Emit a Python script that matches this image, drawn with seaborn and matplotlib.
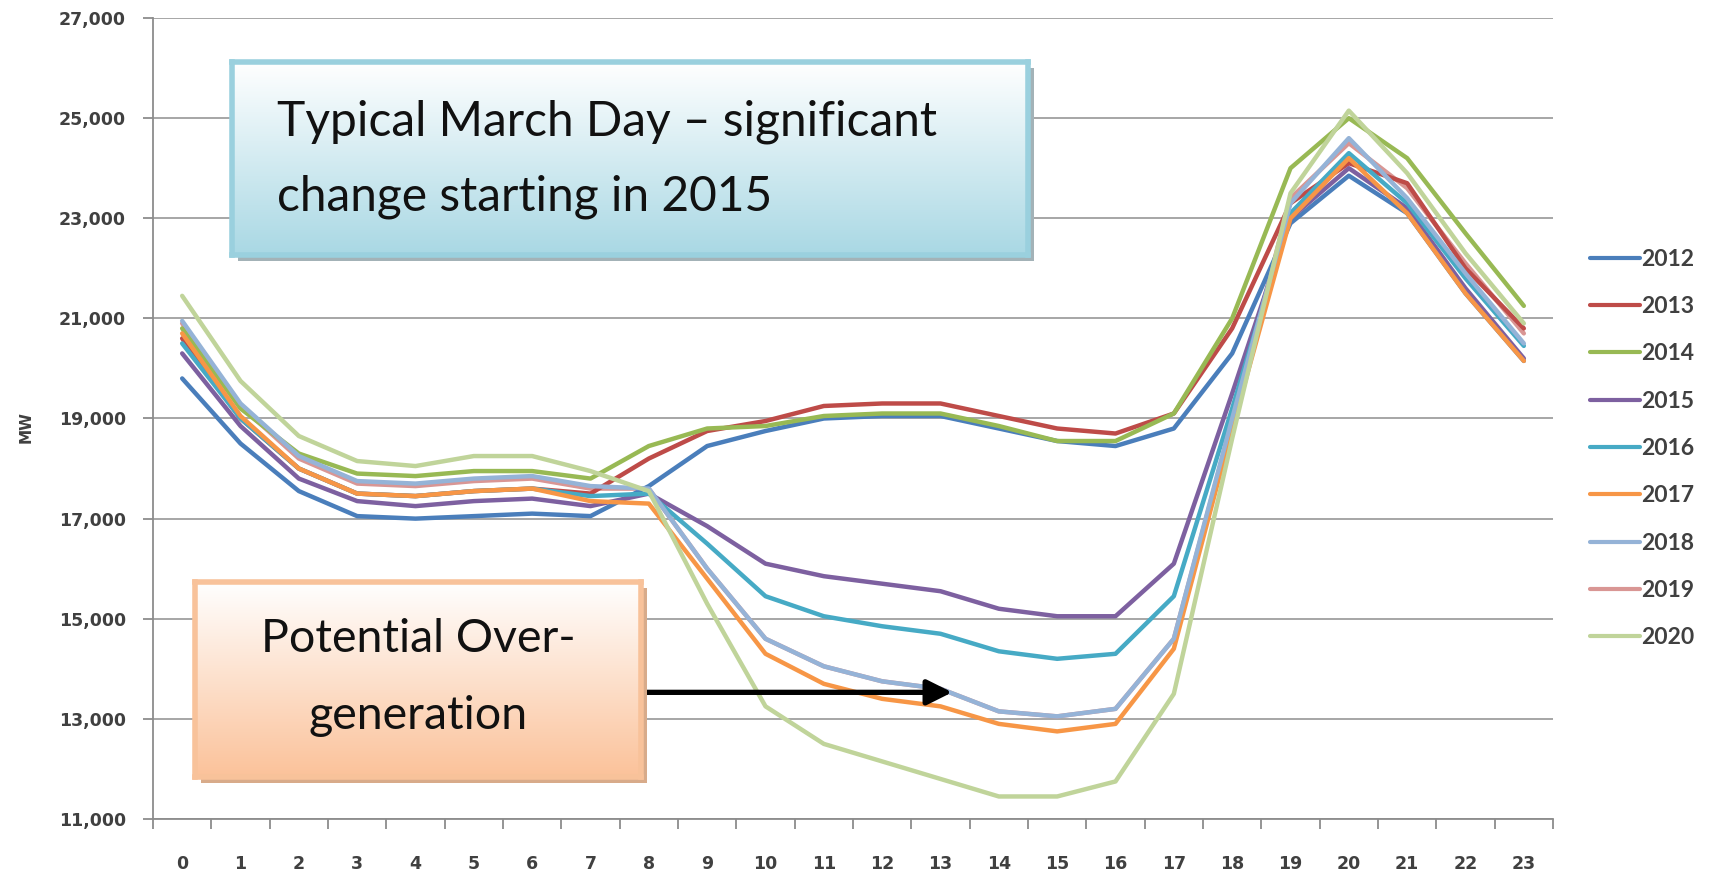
import numpy as np
import pandas as pd
import matplotlib
matplotlib.use("Agg")
import matplotlib.pyplot as plt
import seaborn as sns
from matplotlib.ticker import FuncFormatter, FixedLocator
from matplotlib.patches import Rectangle
from matplotlib.lines import Line2D

hours = list(range(24))
years = ["2012", "2013", "2014", "2015", "2016", "2017", "2018", "2019", "2020"]

y2012 = [19800, 18500, 17550, 17050, 17000, 17050, 17100, 17050, 17650, 18450, 18750, 19000,
         19050, 19050, 18800, 18550, 18450, 18800, 20300, 22900, 23850, 23100, 21500, 20150]
y2013 = [20600, 19000, 18000, 17500, 17450, 17550, 17600, 17500, 18200, 18750, 18950, 19250,
         19300, 19300, 19050, 18800, 18700, 19100, 20800, 23300, 24100, 23700, 22000, 20800]
y2014 = [20800, 19200, 18300, 17900, 17850, 17950, 17950, 17800, 18450, 18800, 18850, 19050,
         19100, 19100, 18850, 18550, 18550, 19100, 21000, 24000, 25000, 24200, 22700, 21250]
y2015 = [20300, 18850, 17800, 17350, 17250, 17350, 17400, 17250, 17500, 16850, 16100, 15850,
         15700, 15550, 15200, 15050, 15050, 16100, 19500, 23000, 24000, 23200, 21600, 20200]
y2016 = [20500, 19000, 18000, 17500, 17450, 17550, 17600, 17450, 17500, 16500, 15450, 15050,
         14850, 14700, 14350, 14200, 14300, 15450, 19200, 23100, 24300, 23300, 21800, 20450]
y2017 = [20700, 19050, 18000, 17500, 17450, 17550, 17600, 17350, 17300, 15800, 14300, 13700,
         13400, 13250, 12900, 12750, 12900, 14400, 18800, 23000, 24200, 23100, 21500, 20150]
y2018 = [20950, 19300, 18250, 17750, 17700, 17800, 17850, 17650, 17600, 16000, 14600, 14050,
         13750, 13600, 13150, 13050, 13200, 14600, 19000, 23300, 24600, 23400, 21900, 20500]
y2019 = [20900, 19250, 18200, 17700, 17650, 17750, 17800, 17600, 17600, 16000, 14600, 14050,
         13750, 13600, 13150, 13050, 13200, 14600, 18950, 23400, 24500, 23600, 22100, 20700]
y2020 = [21450, 19750, 18650, 18150, 18050, 18250, 18250, 17950, 17550, 15300, 13250, 12500,
         12150, 11800, 11450, 11450, 11750, 13500, 18600, 23500, 25150, 23900, 22300, 20900]

series = [y2012, y2013, y2014, y2015, y2016, y2017, y2018, y2019, y2020]
colors = ["#4a7ebb", "#be4b48", "#98b954", "#7d60a0", "#46aac5", "#f79646",
          "#95b3d7", "#d99694", "#c0d49a"]
palette = dict(zip(years, colors))
yticks = [11000, 13000, 15000, 17000, 19000, 21000, 23000, 25000, 27000]

df = pd.DataFrame({
    "hour": hours * len(years),
    "MW": [v for s in series for v in s],
    "year": [y for y in years for _ in hours],
})

sns.set_theme(style="white")
plt.rcParams["font.family"] = ["DejaVu Sans"]

W, H = 1714, 872
fig = plt.figure(figsize=(W / 100, H / 100), dpi=100)
fig.patch.set_facecolor("white")

ax_l, ax_r, ax_t, ax_b = 153, 1553, 18, 819
ax = fig.add_axes([ax_l / W, 1 - ax_b / H, (ax_r - ax_l) / W, (ax_b - ax_t) / H])
ax.set_zorder(0)

draw_order = ["2019", "2012", "2013", "2014", "2015", "2016", "2017", "2018", "2020"]
sns.lineplot(data=df, x="hour", y="MW", hue="year", hue_order=draw_order,
             palette=palette, linewidth=3.2, ax=ax, legend=False)

ax.set_xlim(-0.5, 23.5)
ax.set_ylim(11000, 27000)
ax.set_yticks(yticks)
ax.yaxis.set_major_formatter(FuncFormatter(lambda v, p: f"{int(v):,}"))
ax.set_xticks(hours)
ax.xaxis.set_minor_locator(FixedLocator(np.arange(-0.5, 24.0, 1.0)))
ax.tick_params(axis="x", which="major", length=0, pad=26, labelsize=12.5,
               labelcolor="#404040")
ax.tick_params(axis="x", which="minor", length=7, width=1.3, color="#8c8c8c",
               direction="out", bottom=True)
ax.tick_params(axis="y", which="major", length=7, width=1.3, color="#8c8c8c",
               direction="out", left=True, pad=12.5, labelsize=12.5, labelcolor="#404040")
for lab in ax.get_xticklabels() + ax.get_yticklabels():
    lab.set_fontweight("bold")

ax.grid(axis="y", color="#a6a6a6", linewidth=1.4)
ax.grid(axis="x", visible=False)
for s in ["top", "right"]:
    ax.spines[s].set_visible(False)
for s in ["left", "bottom"]:
    ax.spines[s].set_color("#8c8c8c")
    ax.spines[s].set_linewidth(1.3)
ax.set_xlabel("")
ax.set_ylabel("MW", fontsize=11, fontweight="bold", color="#404040")
ax.yaxis.set_label_coords(-0.085, 0.49)

# arrow pointing to the belly
ax.annotate("", xy=(13.2, 13530), xytext=(7.75, 13530),
            arrowprops=dict(arrowstyle="-|>", color="black", lw=3.8,
                            mutation_scale=38, shrinkA=0, shrinkB=0),
            zorder=10)

# legend
handles = [Line2D([0], [0], color=palette[y], lw=3) for y in years]
fig.legend(handles, years, loc="upper left", bbox_to_anchor=(1569 / W, 1 - 228 / H),
           frameon=False, handlelength=2.2, handletextpad=0.05, labelspacing=1.15,
           prop={"family": "Lato", "size": 16.5, "weight": "bold"}, labelcolor="#404040")


def gradient_box(x0, y0, x1, y1, top_rgb, bot_rgb, edge, shadow):
    sh = Rectangle(((x0 + 6) / W, 1 - (y1 + 6) / H), (x1 - x0) / W, (y1 - y0) / H,
                   transform=fig.transFigure, facecolor=shadow, edgecolor="none")
    sh.set_zorder(1)
    fig.patches.append(sh)
    bx = fig.add_axes([x0 / W, 1 - y1 / H, (x1 - x0) / W, (y1 - y0) / H])
    bx.set_zorder(2)
    g = np.linspace(0, 1, 256)[:, None, None]
    img = np.array(top_rgb)[None, None, :] * (1 - g) + np.array(bot_rgb)[None, None, :] * g
    bx.imshow(img, aspect="auto", extent=[0, 1, 0, 1], origin="upper")
    bx.set_xlim(0, 1)
    bx.set_ylim(0, 1)
    bx.set_xticks([])
    bx.set_yticks([])
    for s in bx.spines.values():
        s.set_color(edge)
        s.set_linewidth(4)
    return bx


def hexrgb(h):
    h = h.lstrip("#")
    return [int(h[i:i + 2], 16) / 255 for i in (0, 2, 4)]


bb = gradient_box(232, 62, 1028, 255, hexrgb("#ffffff"), hexrgb("#a9d8e4"),
                  "#9ad0de", "#a3b2b7")
bb.text(45 / 796, 1 - 60 / 193, "Typical March Day \u2013 significant",
        fontsize=34.5, family="Lato", color="#111111", va="center", ha="left")
bb.text(45 / 796, 1 - 135 / 193, "change starting in 2015",
        fontsize=34.5, family="Lato", color="#111111", va="center", ha="left")

ob = gradient_box(195, 582, 641, 777, hexrgb("#ffffff"), hexrgb("#fbc29a"),
                  "#f8c29a", "#d8ab8a")
ob.text(0.5, 1 - 57 / 195, "Potential Over-", fontsize=33.5, family="Lato",
        color="#111111", va="center", ha="center")
ob.text(0.5, 1 - 134 / 195, "generation", fontsize=33.5, family="Lato",
        color="#111111", va="center", ha="center")

fig.savefig("out.png", dpi=100, facecolor="white")
